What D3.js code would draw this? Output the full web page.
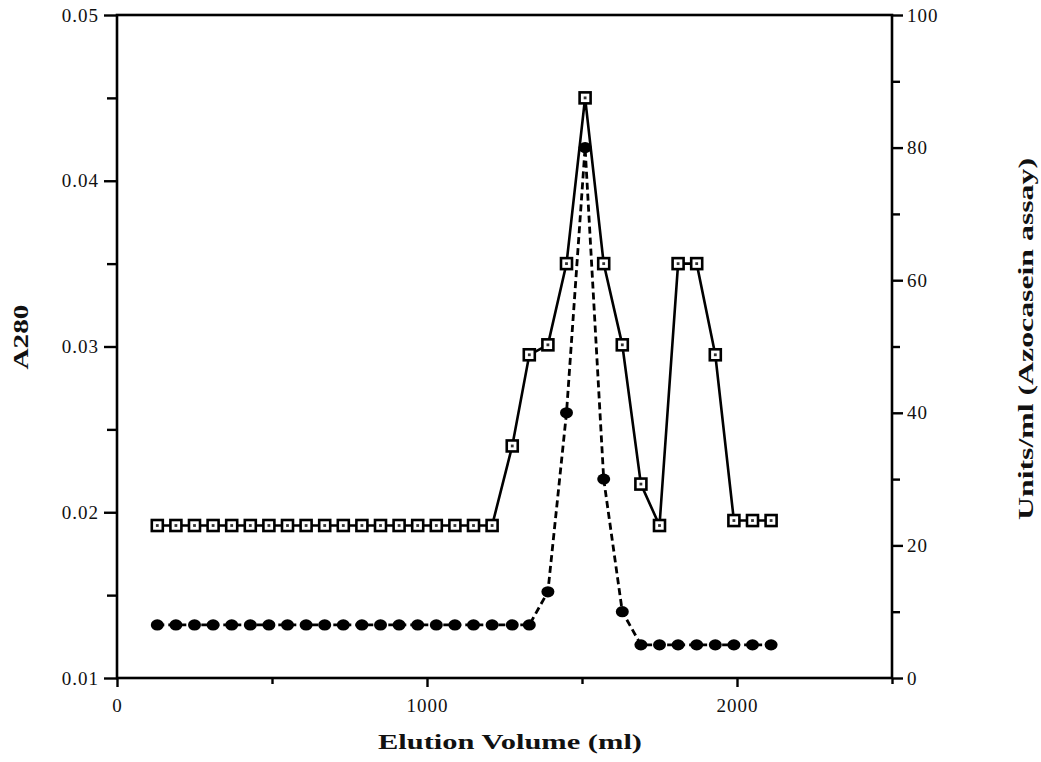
<!DOCTYPE html>
<html>
<head>
<meta charset="utf-8">
<script src="https://cdn.jsdelivr.net/npm/d3@7"></script>
<style>
  html, body { margin: 0; padding: 0; background: #fff; }
  svg { display: block; }
  .tick text { font-family: "Liberation Serif", "Times New Roman", serif; font-size: 19px; fill: #111; letter-spacing: 1px; }
  .axis path, .axis line { stroke: #000; }
  .title { font-family: "Liberation Serif", "Times New Roman", serif; font-weight: bold; font-size: 22px; fill: #111; }
</style>
</head>
<body>
<svg id="chart" width="1041" height="762"></svg>
<script>
// Elution volume of each collected fraction (ml)
const volume = [130, 190, 250, 310, 370, 430, 490, 550, 610, 670, 730, 790, 850, 910, 970, 1030, 1090, 1150, 1210,
                1275, 1330, 1390, 1450, 1510, 1570, 1630, 1690, 1750, 1810, 1870, 1930, 1990, 2050, 2110];
// Protein absorbance at 280 nm (left axis)
const a280 = [0.0192, 0.0192, 0.0192, 0.0192, 0.0192, 0.0192, 0.0192, 0.0192, 0.0192, 0.0192,
              0.0192, 0.0192, 0.0192, 0.0192, 0.0192, 0.0192, 0.0192, 0.0192, 0.0192,
              0.0240, 0.0295, 0.0301, 0.0350, 0.0450, 0.0350, 0.0301, 0.0217, 0.0192,
              0.0350, 0.0350, 0.0295, 0.0195, 0.0195, 0.0195];
// Protease activity, azocasein assay (right axis)
const units = [8, 8, 8, 8, 8, 8, 8, 8, 8, 8, 8, 8, 8, 8, 8, 8, 8, 8, 8, 8, 8,
               13, 40, 80, 30, 10, 5, 5, 5, 5, 5, 5, 5, 5];

// Tick values and labels
const xTicks = [0, 500, 1000, 1500, 2000, 2500];
const xLabels = ["0", "", "1000", "", "2000", ""];
const yLeftTicks = [0.01, 0.015, 0.02, 0.025, 0.03, 0.035, 0.04, 0.045, 0.05];
const yLeftLabels = ["0.01", "", "0.02", "", "0.03", "", "0.04", "", "0.05"];
const yRightTicks = [0, 10, 20, 30, 40, 50, 60, 70, 80, 90, 100];
const yRightLabels = ["0", "", "20", "", "40", "", "60", "", "80", "", "100"];

const svg = d3.select("#chart");
const plot = { left: 117, right: 892, top: 15, bottom: 678 };

const x = d3.scaleLinear().domain([0, 2500]).range([plot.left, plot.right]);
const yL = d3.scaleLinear().domain([0.01, 0.05]).range([plot.bottom, plot.top]);
const yR = d3.scaleLinear().domain([0, 100]).range([plot.bottom, plot.top]);

// Plot frame
svg.append("rect")
  .attr("x", plot.left).attr("y", plot.top)
  .attr("width", plot.right - plot.left).attr("height", plot.bottom - plot.top)
  .attr("fill", "none").attr("stroke", "#000").attr("stroke-width", 2.6);

// Major ticks at even positions, shorter minor ticks in between
function styleAxis(g, major, minor) {
  g.attr("class", "axis");
  g.select(".domain").remove();
  g.selectAll(".tick line")
    .attr("stroke-width", 2.4)
    .each(function (d, i) {
      const sel = d3.select(this);
      const len = i % 2 === 0 ? major : minor;
      const x2 = +(sel.attr("x2") || 0), y2 = +(sel.attr("y2") || 0);
      if (x2 !== 0) sel.attr("x2", Math.sign(x2) * len);
      if (y2 !== 0) sel.attr("y2", Math.sign(y2) * len);
    });
}

// Bottom axis
const gx = svg.append("g").attr("transform", `translate(0,${plot.bottom})`)
  .call(d3.axisBottom(x).tickValues(xTicks).tickFormat((d, i) => xLabels[i]).tickSize(9).tickPadding(12));
styleAxis(gx, 9, 6);

// Left axis
const gl = svg.append("g").attr("transform", `translate(${plot.left},0)`)
  .call(d3.axisLeft(yL).tickValues(yLeftTicks).tickFormat((d, i) => yLeftLabels[i]).tickSize(13).tickPadding(5));
styleAxis(gl, 13, 10);

// Right axis
const gr = svg.append("g").attr("transform", `translate(${plot.right},0)`)
  .call(d3.axisRight(yR).tickValues(yRightTicks).tickFormat((d, i) => yRightLabels[i]).tickSize(11).tickPadding(4));
styleAxis(gr, 11, 8);

// Activity trace (dashed)
const actLine = d3.line().x((d, i) => x(volume[i])).y(d => yR(d));
svg.append("path").datum(units)
  .attr("d", actLine)
  .attr("fill", "none").attr("stroke", "#000")
  .attr("stroke-width", 2.8).attr("stroke-dasharray", "7,4");

// Absorbance trace (solid)
const absLine = d3.line().x((d, i) => x(volume[i])).y(d => yL(d));
svg.append("path").datum(a280)
  .attr("d", absLine)
  .attr("fill", "none").attr("stroke", "#000").attr("stroke-width", 2.6);

// Filled markers for activity
svg.append("g").selectAll("ellipse").data(units).join("ellipse")
  .attr("cx", (d, i) => x(volume[i]))
  .attr("cy", d => yR(d))
  .attr("rx", 6.5).attr("ry", 5.6)
  .attr("fill", "#000");

// Open square markers for absorbance
const sq = svg.append("g").selectAll("g").data(a280).join("g")
  .attr("transform", (d, i) => `translate(${x(volume[i])},${yL(d)})`);
sq.append("rect")
  .attr("x", -5.5).attr("y", -5.5).attr("width", 11).attr("height", 11)
  .attr("fill", "#fff").attr("stroke", "#000").attr("stroke-width", 2.6);
sq.append("rect")
  .attr("x", -1.4).attr("y", -1.4).attr("width", 2.8).attr("height", 2.8)
  .attr("fill", "#333");

// Axis titles
svg.append("text").attr("class", "title")
  .attr("x", 510).attr("y", 749)
  .attr("text-anchor", "middle")
  .attr("textLength", 264).attr("lengthAdjust", "spacingAndGlyphs")
  .text("Elution Volume (ml)");

svg.append("text").attr("class", "title")
  .attr("transform", "translate(28,337) rotate(-90)")
  .attr("text-anchor", "middle")
  .attr("textLength", 65).attr("lengthAdjust", "spacingAndGlyphs")
  .text("A280");

svg.append("text").attr("class", "title")
  .attr("transform", "translate(1033,339) rotate(-90)")
  .attr("text-anchor", "middle")
  .attr("textLength", 362).attr("lengthAdjust", "spacingAndGlyphs")
  .text("Units/ml (Azocasein assay)");
</script>
</body>
</html>
